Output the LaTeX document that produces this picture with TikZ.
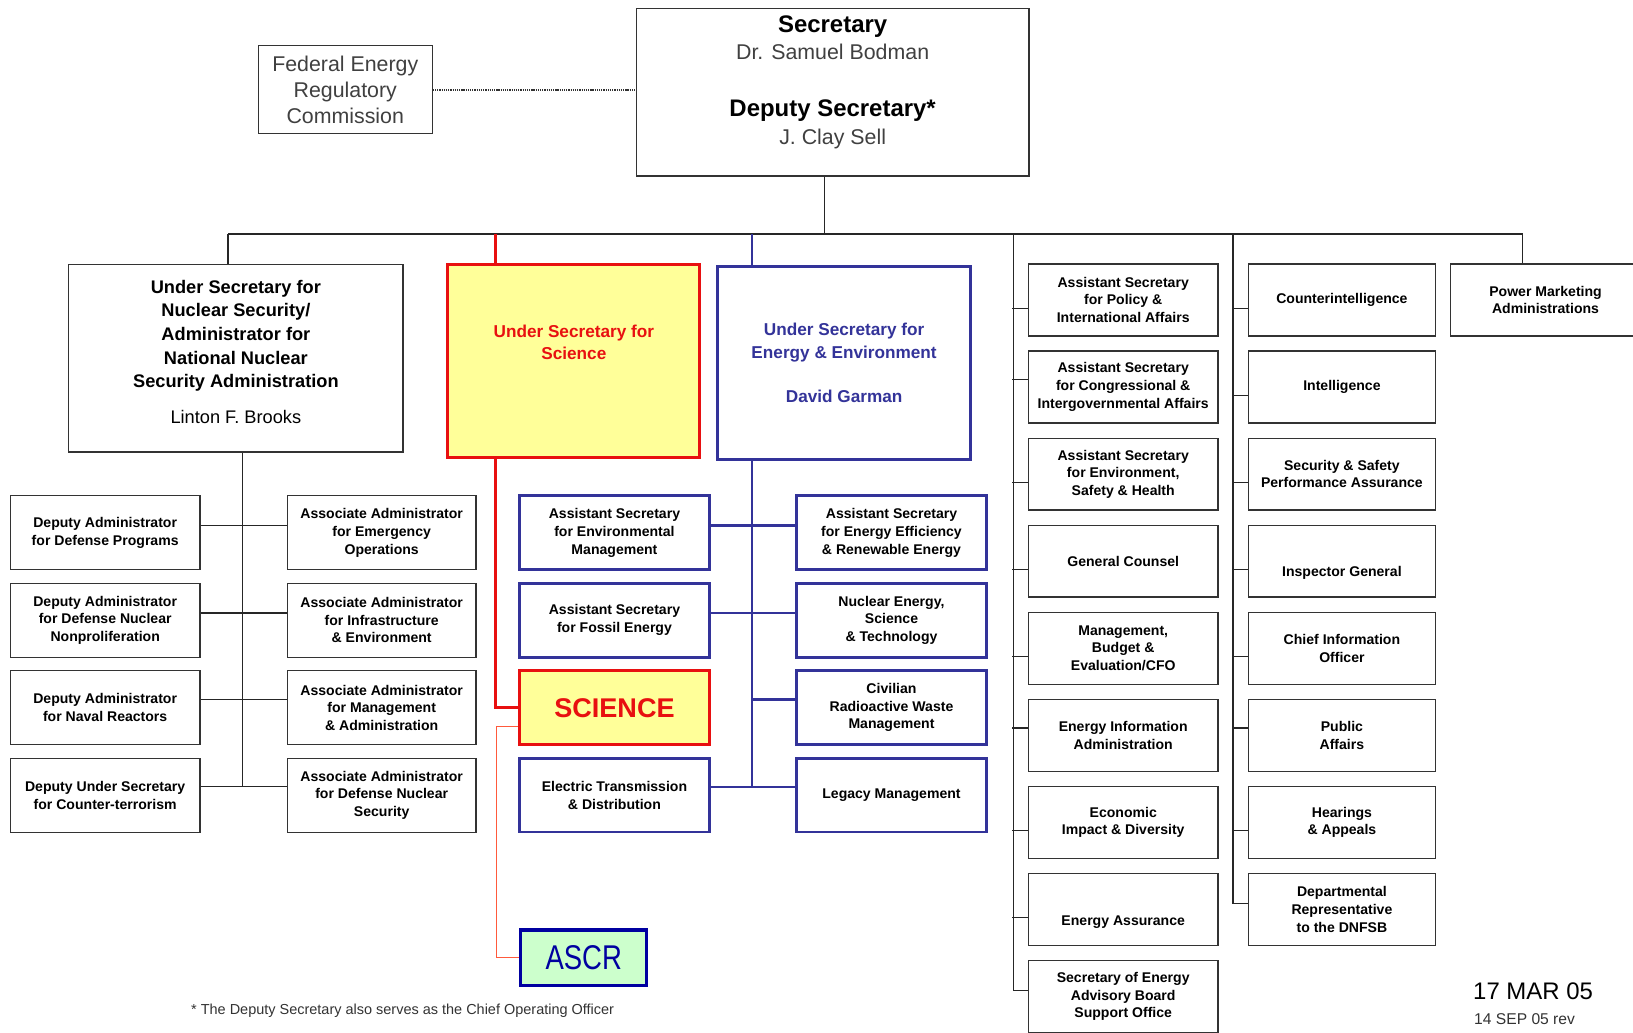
\documentclass[tikz,border=0pt]{standalone}
\usepackage{fontspec}
\setmainfont{Liberation Sans}
\newfontfamily\narrowfont[FakeStretch=0.8]{Liberation Sans}
\usetikzlibrary{positioning}

\definecolor{sciRed}{RGB}{232,16,16}
\definecolor{sciYellow}{RGB}{255,255,153}
\definecolor{eeBlue}{RGB}{51,51,153}
\definecolor{ascrBlue}{RGB}{0,0,160}
\definecolor{ascrGreen}{RGB}{204,255,204}
\definecolor{ascrLine}{RGB}{255,90,60}

\begin{document}
\begin{tikzpicture}[x=1pt, y=-1pt,
    unit/.style={draw=black!80, line width=1.2pt, fill=white, align=center, inner sep=0pt,
      minimum width=182pt, minimum height=71pt, font=\fontsize{13.5}{17}\selectfont\bfseries},
    staff/.style={unit, minimum height=69pt},
    eeunit/.style={unit, draw=eeBlue, line width=2.6pt},
    link/.style={draw=black!85, line width=1.2pt},
    bus/.style={draw=black!85, line width=2pt},
    redlink/.style={draw=sciRed, line width=2.4pt},
    bluelink/.style={draw=eeBlue, line width=2.4pt}]
  \useasboundingbox (0,0) rectangle (1568,991);
  \fill[white] (0,0) rectangle (1568,991);

  % top
  \node[draw=black!80, line width=1.2pt, minimum width=377pt, minimum height=161pt] (sec) at (799.5,88.5) {};
  \node[anchor=base, font=\fontsize{23}{26}\selectfont\bfseries] (secT) at (799.5,31) {Secretary};
  \node[anchor=base, font=\fontsize{20.5}{24}\selectfont, text=black!75] (secN) at (799.5,57) {Dr. Samuel Bodman};
  \node[anchor=base, font=\fontsize{23}{26}\selectfont\bfseries] (depT) at (799.5,112) {Deputy Secretary*};
  \node[anchor=base, font=\fontsize{20.5}{24}\selectfont, text=black!75] (depN) at (799.5,139) {J. Clay Sell};
  \node[draw=black!80, line width=1.2pt, minimum width=167pt, minimum height=84pt, align=center,
    font=\fontsize{20.5}{25}\selectfont, text=black!75] (ferc) at (331.5,86) {Federal Energy\\Regulatory\\Commission};
  \draw[black!80, line width=1.8pt, dash pattern=on 1.2pt off 0.9pt] (ferc.east) -- (ferc.east -| sec.west);

  % bus
  \coordinate (busA) at (219,225);
  \coordinate (busS) at (476,225);
  \coordinate (busE) at (722,225);
  \coordinate (busM) at (792,225);
  \coordinate (busC) at (973,225);
  \coordinate (busD) at (1184,225);
  \coordinate (busP) at (1462,225);
  \draw[bus] (busA) -- (busP);
  \draw[link] (busM |- sec.south) -- (busM);

  % under secretaries
  \node[unit, minimum width=321pt, minimum height=180pt] (nnsa) at (226.5,344) {};
  \node[align=center, font=\fontsize{17.5}{22.7}\selectfont\bfseries] (nnsaT) at ([yshift=6pt]nnsa.center)
    {Under Secretary for\\Nuclear Security/\\Administrator for\\National Nuclear\\Security Administration\\[12pt]{\mdseries Linton F. Brooks}};
  \node[unit, draw=sciRed, fill=sciYellow, line width=2.8pt, minimum width=242pt, minimum height=185pt] (uss) at (551,346.5) {};
  \node[align=center, text=sciRed, font=\fontsize{16.5}{21}\selectfont\bfseries] (ussT) at ([yshift=18pt]uss.center) {Under Secretary for\\Science};
  \node[eeunit, minimum width=243pt, minimum height=185pt, text=eeBlue, font=\fontsize{16.5}{22}\selectfont\bfseries] (use) at (810.5,348.5)
    {Under Secretary for\\Energy \& Environment\\[20pt]David Garman};
  \draw[link] (busA) -- (busA |- nnsa.north);
  \draw[redlink] (busS) -- (busS |- uss.north);
  \draw[bluelink] (busE) -- (busE |- use.north);

  % NNSA offices
  \node[unit] (dp1) at (101,511.5) {Deputy Administrator\\for Defense Programs};
  \node[unit] (dp2) at (101,595.5) {Deputy Administrator\\for Defense Nuclear\\Nonproliferation};
  \node[unit] (dp3) at (101,679.5) {Deputy Administrator\\for Naval Reactors};
  \node[unit] (dp4) at (101,763.5) {Deputy Under Secretary\\for Counter-terrorism};
  \node[unit, minimum width=181pt] (aa1) at (366.5,511.5) {Associate Administrator\\for Emergency\\Operations};
  \node[unit, minimum width=181pt] (aa2) at (366.5,595.5) {Associate Administrator\\for Infrastructure\\\& Environment};
  \node[unit, minimum width=181pt] (aa3) at (366.5,679.5) {Associate Administrator\\for Management\\\& Administration};
  \node[unit, minimum width=181pt] (aa4) at (366.5,763.5) {Associate Administrator\\for Defense Nuclear\\Security};
  \coordinate (nspine) at (233,755);
  \draw[link] (nspine |- nnsa.south) -- (nspine);
  \draw[link] ([yshift=7pt]dp1.east) -- ([yshift=7pt]aa1.west);
  \draw[link] ([yshift=7pt]dp2.east) -- ([yshift=7pt]aa2.west);
  \draw[link] ([yshift=8pt]dp3.east) -- ([yshift=8pt]aa3.west);
  \draw[link] ([yshift=8pt]dp4.east) -- ([yshift=8pt]aa4.west);

  % energy and science offices
  \node[eeunit] (em) at (590,511.5) {Assistant Secretary\\for Environmental\\Management};
  \node[eeunit] (fe) at (590,595.5) {Assistant Secretary\\for Fossil Energy};
  \node[unit, draw=sciRed, fill=sciYellow, line width=2.8pt, text=sciRed, font=\fontsize{26}{30}\selectfont\bfseries] (sci) at (590,679.5) {SCIENCE};
  \node[eeunit] (etd) at (590,763.5) {Electric Transmission\\\& Distribution};
  \node[eeunit] (eere) at (856,511.5) {Assistant Secretary\\for Energy Efficiency\\\& Renewable Energy};
  \node[eeunit] (nest) at (856,595.5) {Nuclear Energy,\\Science\\\& Technology};
  \node[eeunit] (crw) at (856,679.5) {Civilian\\Radioactive Waste\\Management};
  \node[eeunit] (lm) at (856,763.5) {Legacy Management};
  \coordinate (espine) at (722,755);
  \draw[bluelink] (busE |- use.south) -- (espine);
  \draw[bluelink] ([yshift=7pt]em.east) -- ([yshift=7pt]eere.west);
  \draw[bluelink] ([yshift=7pt]fe.east) -- ([yshift=7pt]nest.west);
  \draw[bluelink] ([yshift=8pt]crw.west) -- ++(-43,0);
  \draw[bluelink] ([yshift=8pt]etd.east) -- ([yshift=8pt]lm.west);
  \draw[redlink] (busS |- uss.south) |- (sci.west);

  % ASCR
  \node[draw=ascrBlue, fill=ascrGreen, line width=3.2pt, minimum width=121pt, minimum height=53pt, inner sep=0pt,
    text=ascrBlue, font=\narrowfont\fontsize{33}{36}\selectfont] (ascr) at (560.5,919.5) {ASCR};
  \draw[draw=ascrLine, line width=1.3pt] ([yshift=-18pt]sci.west) -- ++(-21,0) |- (ascr.west);

  % staff offices
  \node[staff] (pia) at (1078.5,288) {Assistant Secretary\\for Policy \&\\International Affairs};
  \node[staff] (cia) at (1078.5,371.6) {Assistant Secretary\\for Congressional \&\\Intergovernmental Affairs};
  \node[staff] (esh) at (1078.5,455.2) {Assistant Secretary\\for Environment,\\Safety \& Health};
  \node[staff] (gc) at (1078.5,538.8) {General Counsel};
  \node[staff] (cfo) at (1078.5,622.4) {Management,\\Budget \&\\Evaluation/CFO};
  \node[staff] (eia) at (1078.5,706) {Energy Information\\Administration};
  \node[staff] (eid) at (1078.5,789.6) {Economic\\Impact \& Diversity};
  \node[staff, text height=33pt, text depth=3pt] (ea) at (1078.5,873.2) {Energy Assurance};
  \node[staff] (sab) at (1078.5,956.8) {Secretary of Energy\\Advisory Board\\Support Office};
  \node[staff, minimum width=180pt] (ci) at (1288.5,288) {Counterintelligence};
  \node[staff, minimum width=180pt] (intel) at (1288.5,371.6) {Intelligence};
  \node[staff, minimum width=180pt] (sspa) at (1288.5,455.2) {Security \& Safety\\Performance Assurance};
  \node[staff, minimum width=180pt, text height=32pt, text depth=3pt] (ig) at (1288.5,538.8) {Inspector General};
  \node[staff, minimum width=180pt] (cio) at (1288.5,622.4) {Chief  Information\\Officer};
  \node[staff, minimum width=180pt] (pa) at (1288.5,706) {Public\\Affairs};
  \node[staff, minimum width=180pt] (ha) at (1288.5,789.6) {Hearings\\\& Appeals};
  \node[staff, minimum width=180pt] (drep) at (1288.5,873.2) {Departmental\\Representative\\to the DNFSB};
  \node[staff] (pma) at (1484,288) {Power Marketing\\Administrations};
  \draw[link] (busP) -- (busP |- pma.north);
  \draw[link] (busC) |- ([yshift=6pt]sab.west);
  \draw[link] (busD) |- ([yshift=6pt]drep.west);
  \draw[link] ([yshift=-8pt]pia.west) -- ++(-15,0);
  \draw[link] ([yshift=7pt]cia.west) -- ++(-15,0);
  \draw[link] ([yshift=-8pt]esh.west) -- ++(-15,0);
  \draw[link] ([yshift=-8pt]gc.west) -- ++(-15,0);
  \draw[link] ([yshift=-8pt]cfo.west) -- ++(-15,0);
  \draw[link] ([yshift=7pt]eia.west) -- ++(-15,0);
  \draw[link] ([yshift=-8pt]eid.west) -- ++(-15,0);
  \draw[link] ([yshift=-8pt]ea.west) -- ++(-15,0);
  \draw[link] ([yshift=-8pt]ci.west) -- ++(-14,0);
  \draw[link] ([yshift=-8pt]intel.west) -- ++(-14,0);
  \draw[link] ([yshift=-8pt]sspa.west) -- ++(-14,0);
  \draw[link] ([yshift=-8pt]ig.west) -- ++(-14,0);
  \draw[link] ([yshift=-8pt]cio.west) -- ++(-14,0);
  \draw[link] ([yshift=7pt]pa.west) -- ++(-14,0);
  \draw[link] ([yshift=-8pt]ha.west) -- ++(-14,0);

  % notes
  \node[anchor=base west, font=\fontsize{13.9}{16}\selectfont, text=black!80] (note) at (180,974)
    {* The Deputy Secretary also serves as the Chief Operating Officer};
  \node[anchor=base west, font=\fontsize{23}{26}\selectfont] (date) at (1411,960) {17 MAR 05};
  \node[anchor=base west, font=\fontsize{15}{17}\selectfont, text=black!80] (rev) at (1412,984) {14 SEP 05 rev};
\end{tikzpicture}
\end{document}
